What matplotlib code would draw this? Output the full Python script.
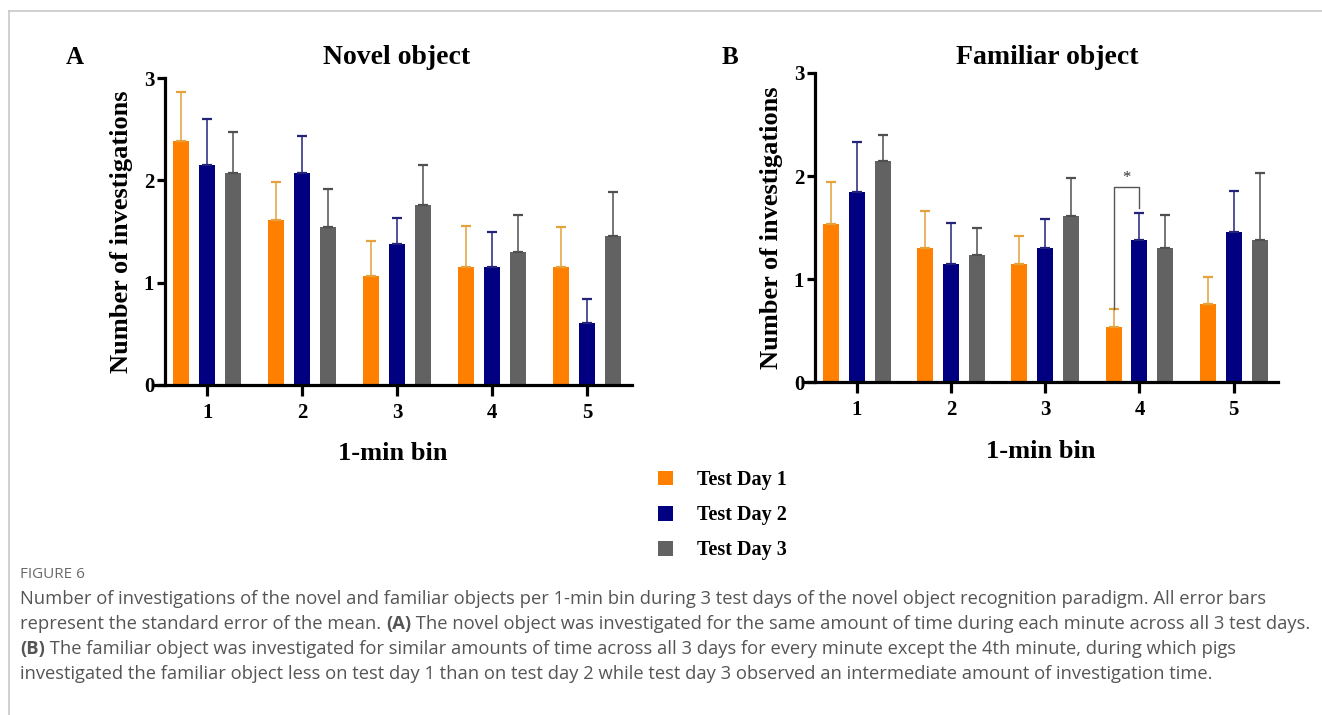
"""Figure 6: investigations of novel / familiar object per 1-min bin, 3 test days."""

import matplotlib

matplotlib.use("Agg")
import matplotlib.pyplot as plt
import numpy as np
from matplotlib.lines import Line2D
from matplotlib.patches import Patch

W, H = 1322, 715

# ---------------------------------------------------------------------
# Data (means and upward SEM)
# ---------------------------------------------------------------------
bins = [1, 2, 3, 4, 5]
days = ["Test Day 1", "Test Day 2", "Test Day 3"]

novel_day1 = [2.38, 1.61, 1.07, 1.15, 1.15]
novel_day2 = [2.15, 2.07, 1.38, 1.15, 0.61]
novel_day3 = [2.07, 1.54, 1.76, 1.30, 1.46]
novel_sem_day1 = [0.48, 0.37, 0.34, 0.40, 0.39]
novel_sem_day2 = [0.45, 0.36, 0.255, 0.35, 0.23]
novel_sem_day3 = [0.40, 0.38, 0.385, 0.36, 0.43]

familiar_day1 = [1.53, 1.30, 1.15, 0.53, 0.76]
familiar_day2 = [1.84, 1.15, 1.30, 1.38, 1.46]
familiar_day3 = [2.15, 1.23, 1.61, 1.30, 1.38]
familiar_sem_day1 = [0.41, 0.36, 0.265, 0.18, 0.255]
familiar_sem_day2 = [0.49, 0.39, 0.28, 0.26, 0.39]
familiar_sem_day3 = [0.245, 0.27, 0.37, 0.32, 0.65]

# significance bracket in panel B (bin 4, day 1 vs day 2)
sig_bin = 4
sig_left_y, sig_top_y, sig_right_y = 0.71, 1.89, 1.69

BAR_COLORS = ["#FF8000", "#000080", "#626262"]
ERR_COLORS = ["#E3A23C", "#23237A", "#505050"]

caption_title = "FIGURE 6"
caption_lines = [
    [("Number of investigations of the novel and familiar objects per 1-min bin during 3 test days "
      "of the novel object recognition paradigm. All error bars", "normal")],
    [("represent the standard error of the mean. ", "normal"), ("(A)", "bold"),
     (" The novel object was investigated for the same amount of time during each minute "
      "across all 3 test days.", "normal")],
    [("(B)", "bold"),
     (" The familiar object was investigated for similar amounts of time across all 3 days "
      "for every minute except the 4th minute, during which pigs", "normal")],
    [("investigated the familiar object less on test day 1 than on test day 2 while test day 3 "
      "observed an intermediate amount of investigation time.", "normal")],
]

SERIF = "Liberation Serif"
SANS = "Open Sans"


def px(x, y):
    """pixel (from top-left) -> figure fraction"""
    return x / W, 1 - y / H


def draw_panel(ax, means, sems, letter_xy, letter, title, title_xy, fig):
    x = np.array(bins, dtype=float)
    width = 0.17
    offsets = [-0.274, 0.0, 0.274]
    for i in range(3):
        ax.bar(x + offsets[i], means[i], width=width, color=BAR_COLORS[i],
               edgecolor="none", zorder=2)
        ax.errorbar(x + offsets[i], means[i],
                    yerr=[np.zeros(len(bins)), sems[i]], fmt="none",
                    ecolor=ERR_COLORS[i], elinewidth=1.1, capsize=3.5,
                    capthick=1.6, zorder=3)

    ax.set_xlim(0.43, 5.47)
    ax.set_ylim(0, 3)
    ax.set_xticks(bins)
    ax.set_yticks([0, 1, 2, 3])
    for s in ["top", "right"]:
        ax.spines[s].set_visible(False)
    ax.spines["left"].set_position(("data", 0.56))
    ax.spines["left"].set_linewidth(2.3)
    ax.spines["bottom"].set_linewidth(2.3)
    ax.tick_params(axis="x", length=8, width=2.3, pad=5)
    ax.tick_params(axis="y", length=6, width=2.3, pad=2)
    for lab in ax.get_xticklabels() + ax.get_yticklabels():
        lab.set_fontfamily(SERIF)
        lab.set_fontweight("bold")
        lab.set_fontsize(15)
    ax.set_xlabel("1-min bin", fontfamily=SERIF, fontweight="bold",
                  fontsize=19, labelpad=14)
    ax.set_ylabel("Number of investigations", fontfamily=SERIF,
                  fontweight="bold", fontsize=19, labelpad=8)

    fig.text(*px(*letter_xy), letter, fontfamily=SERIF, fontweight="bold",
             fontsize=18, ha="left", va="center")
    fig.text(*px(*title_xy), title, fontfamily=SERIF, fontweight="bold",
             fontsize=20, ha="center", va="center")


def draw_rich_line(fig, renderer, x0, y0, segments, size, color):
    x = x0
    for text, weight in segments:
        t = fig.text(*px(x, y0), text, fontfamily=SANS, fontweight=weight,
                     fontsize=size, color=color, ha="left", va="center")
        bb = t.get_window_extent(renderer=renderer)
        x += bb.width


def main():
    fig = plt.figure(figsize=(W / 100, H / 100), dpi=100)

    ax_a = fig.add_axes([153 / W, 1 - 385 / H, (632 - 153) / W, (385 - 78) / H])
    ax_b = fig.add_axes([803 / W, 1 - 382 / H, (1278 - 803) / W, (382 - 73) / H])

    draw_panel(ax_a, [novel_day1, novel_day2, novel_day3],
               [novel_sem_day1, novel_sem_day2, novel_sem_day3],
               (66, 57), "A", "Novel object", (397, 57), fig)
    draw_panel(ax_b, [familiar_day1, familiar_day2, familiar_day3],
               [familiar_sem_day1, familiar_sem_day2, familiar_sem_day3],
               (722, 57), "B", "Familiar object", (1047, 57), fig)

    # significance bracket
    xl, xr = sig_bin - 0.274, sig_bin
    ax_b.plot([xl, xl, xr, xr], [sig_left_y, sig_top_y, sig_top_y, sig_right_y],
              color="#555555", lw=1.0, zorder=4, clip_on=False)
    ax_b.text((xl + xr) / 2, sig_top_y + 0.01, "*", ha="center", va="bottom",
              fontfamily=SERIF, fontsize=12, color="#333333")

    # legend
    handles = [Patch(facecolor=c, edgecolor="none", label=d)
               for c, d in zip(BAR_COLORS, days)]
    fig.legend(handles=handles, loc="upper left",
               bbox_to_anchor=px(650, 462), frameon=False,
               handlelength=0.75, handleheight=0.75, handletextpad=1.2,
               labelspacing=0.75, borderaxespad=0,
               prop={"family": SERIF, "weight": "bold", "size": 14.5})

    # page frame lines
    fig.add_artist(Line2D([9 / W, 1], [1 - 11 / H] * 2, color="#C8C8C8", lw=1.2))
    fig.add_artist(Line2D([9 / W] * 2, [1 - 11 / H, 0], color="#C8C8C8", lw=1.2))

    # caption
    renderer = fig.canvas.get_renderer()
    fig.text(*px(20, 574), caption_title, fontfamily=SANS, fontsize=11,
             color="#6A6A6A", ha="left", va="center")
    for i, segs in enumerate(caption_lines):
        draw_rich_line(fig, renderer, 20, 599 + i * 25, segs, 13.2, "#555555")

    fig.savefig("out.png", dpi=100)
    plt.close(fig)


if __name__ == "__main__":
    main()
